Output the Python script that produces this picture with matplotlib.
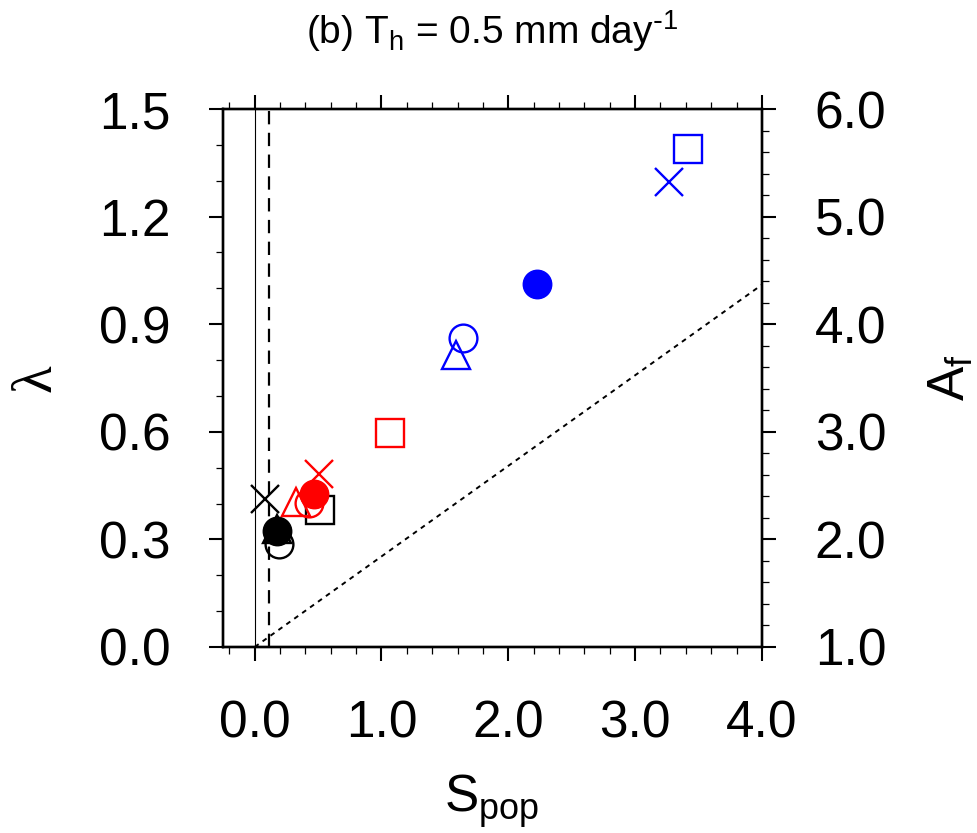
import matplotlib.pyplot as plt
from matplotlib.ticker import MultipleLocator
import numpy as np

plt.rcParams['font.family'] = 'Liberation Sans'
plt.rcParams['mathtext.default'] = 'regular'

# marker order for each colour group: triangle, open circle, square, cross, filled circle
kinds = ['triangle', 'open', 'square', 'cross', 'filled']

spop_black = [0.178, 0.190, 0.517, 0.084, 0.178]
lam_black = [0.330, 0.287, 0.382, 0.413, 0.324]

spop_red = [0.325, 0.425, 1.071, 0.504, 0.465]
lam_red = [0.403, 0.401, 0.597, 0.482, 0.427]

spop_blue = [1.590, 1.640, 3.417, 3.265, 2.223]
lam_blue = [0.814, 0.862, 1.389, 1.297, 1.011]

# reference lines
zero_x = 0.0
dash_x = 0.11
diag_x = [0.0, 4.0]
diag_y = [0.0, 1.01]

xticks = [0.0, 1.0, 2.0, 3.0, 4.0]
lam_ticks = [0.0, 0.3, 0.6, 0.9, 1.2, 1.5]
af_ticks = [1.0, 2.0, 3.0, 4.0, 5.0, 6.0]

groups = [('black', spop_black, lam_black),
          ('#ff0000', spop_red, lam_red),
          ('#0000ff', spop_blue, lam_blue)]

fig = plt.figure(figsize=(9.78, 8.33), dpi=100)
ax = fig.add_axes([0.228, 0.2233, 0.551, 0.6458])

ax.axvline(zero_x, color='black', lw=0.8)
ax.axvline(dash_x, color='black', lw=1.6, ls=(0, (6, 3.8)))
ax.plot(diag_x, diag_y, color='black', lw=1.4, ls=(0, (2.5, 2.5)))

mstyle = {'triangle': '^', 'open': 'o', 'square': 's', 'cross': 'x', 'filled': 'o'}
for col, xs, ys in groups:
    for k, x, y in zip(kinds, xs, ys):
        if k == 'filled':
            ax.plot(x, y, marker='o', ms=20.5, color=col, mec=col, mfc=col, ls='none')
        else:
            ax.plot(x, y, marker=mstyle[k], ms=20, mew=1.7, mec=col, mfc='none', ls='none')

ax.set_xlim(-0.25, 4.0)
ax.set_ylim(0.0, 1.5)
ax.set_xticks(xticks)
ax.set_xticklabels(['%.1f' % v for v in xticks])
ax.set_yticks(lam_ticks)
ax.set_yticklabels(['%.1f' % v for v in lam_ticks])
ax.xaxis.set_minor_locator(MultipleLocator(0.2))
ax.yaxis.set_minor_locator(MultipleLocator(0.1))
ax.tick_params(which='both', direction='out', top=True, right=False)
ax.tick_params(which='major', length=10, width=1.5, labelsize=37, pad=28)
ax.tick_params(which='minor', length=5, width=0.9)

ax2 = ax.twinx()
ax2.set_ylim(1.0, 6.0)
ax2.set_yticks(af_ticks)
ax2.set_yticklabels(['%.1f' % v for v in af_ticks])
ax2.yaxis.set_minor_locator(MultipleLocator(0.2))
ax2.tick_params(which='both', direction='out')
ax2.tick_params(which='major', length=10, width=1.5, labelsize=37, pad=28)
ax2.tick_params(which='minor', length=5, width=0.9)

for a in [ax, ax2]:
    for s in a.spines.values():
        s.set_linewidth(1.7)

fig.text(492/978, 1 - 44/833, r'(b) T$_h$ = 0.5 mm day$^{\text{-}1}$', ha='center', va='baseline', fontsize=28)
fig.text(37/978, 1 - 378/833, 'λ', rotation=90, ha='center', va='center', fontsize=41, family='Liberation Serif')
fig.text(951/978, 1 - 378/833, r'$A_f$', rotation=90, ha='center', va='center', fontsize=37)
fig.text(492/978, 1 - 801/833, r'$S_{pop}$', ha='center', va='center', fontsize=37)

fig.savefig('out.png', dpi=100)
